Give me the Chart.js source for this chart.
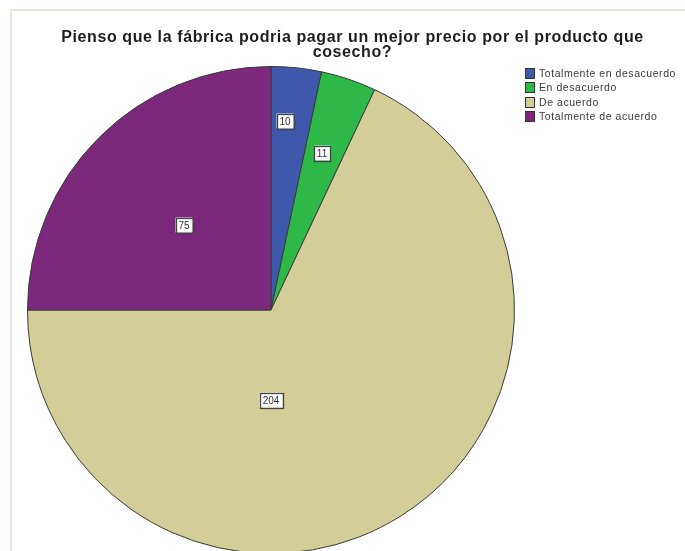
<!DOCTYPE html>
<html lang="es">
<head>
<meta charset="UTF-8">
<title>Precio por el producto</title>
<script src="https://cdn.jsdelivr.net/npm/chart.js"></script>
<style>
    html, body {
        margin: 0;
        padding: 0;
        width: 685px;
        height: 551px;
        overflow: hidden;
        background: #ffffff;
        font-family: "Liberation Sans", Arial, sans-serif;
    }
    .marco {
        position: absolute;
        left: 10px;
        top: 9px;
        width: 700px;
        height: 600px;
        border-left: 2px solid #ebe7de;
        border-top: 2px solid #ebe7de;
    }
    .titulo {
        position: absolute;
        left: 20px;
        width: 665px;
        top: 29px;
        text-align: center;
        font-weight: bold;
        font-size: 16px;
        letter-spacing: 0.6px;
        line-height: 15px;
        color: #1e1e1e;
    }
    .leyenda {
        position: absolute;
        left: 525px;
        top: 67px;
        font-size: 10.5px;
        letter-spacing: 0.55px;
        color: #3a3a3a;
    }
    .leyenda div {
        height: 14.3px;
        line-height: 12px;
        white-space: nowrap;
    }
    .leyenda span {
        display: inline-block;
        width: 8px;
        height: 9px;
        border: 1px solid #333;
        vertical-align: -2px;
        margin-right: 4px;
    }
    #grafico {
        position: absolute;
        left: 0;
        top: 0;
    }
</style>
</head>
<body>

<div class="marco"></div>
<canvas id="grafico" width="685" height="562"></canvas>
<div class="titulo">Pienso que la fábrica podria pagar un mejor precio por el producto que<br>cosecho?</div>
<div class="leyenda" id="leyenda"></div>

<script>
    // Respuestas y frecuencias
    var categorias = ['Totalmente en desacuerdo', 'En desacuerdo', 'De acuerdo', 'Totalmente de acuerdo'];
    var frecuencias = [10, 11, 204, 75];
    var colores = ['#3e58ac', '#2eb848', '#d3ce97', '#7c287d'];

    // donde va la etiqueta dentro de cada sector: fraccion del angulo y del radio
    var posEtiqueta = [
        { t: 0.35, r: 0.78 },
        { t: 0.46, r: 0.68 },
        { t: 0.632, r: 0.37 },
        { t: 0.49, r: 0.50 }
    ];

    // leyenda en html
    var leyenda = document.getElementById('leyenda');
    categorias.forEach(function(c, i) {
        var fila = document.createElement('div');
        var cuadro = document.createElement('span');
        cuadro.style.background = colores[i];
        fila.appendChild(cuadro);
        fila.appendChild(document.createTextNode(c));
        leyenda.appendChild(fila);
    });

    // etiquetas con recuadro blanco sobre cada sector
    var etiquetas = {
        id: 'etiquetas',
        afterDatasetsDraw: function(chart) {
            var ctx = chart.ctx;
            var arcos = chart.getDatasetMeta(0).data;
            ctx.save();
            ctx.font = '10px "Liberation Sans", Arial, sans-serif';
            ctx.textAlign = 'center';
            ctx.textBaseline = 'middle';
            arcos.forEach(function(arco, i) {
                var p = arco.getProps(['x', 'y', 'startAngle', 'endAngle', 'outerRadius'], true);
                var ang = p.startAngle + (p.endAngle - p.startAngle) * posEtiqueta[i].t;
                var rad = p.outerRadius * posEtiqueta[i].r;
                var x = Math.round(p.x + Math.cos(ang) * rad);
                var y = Math.round(p.y + Math.sin(ang) * rad);
                var texto = String(frecuencias[i]);
                var w = Math.round(ctx.measureText(texto).width + 6);
                var h = 15;
                ctx.fillStyle = '#ffffff';
                ctx.fillRect(x - w / 2, y - h / 2, w, h);
                ctx.strokeStyle = '#444444';
                ctx.lineWidth = 1.3;
                ctx.strokeRect(Math.round(x - w / 2) + 0.5, Math.round(y - h / 2) + 0.5, w, h);
                ctx.fillStyle = '#333333';
                ctx.fillText(texto, x, y + 1);
            });
            ctx.restore();
        }
    };

    new Chart(document.getElementById('grafico'), {
        type: 'pie',
        data: {
            labels: categorias,
            datasets: [{
                data: frecuencias,
                backgroundColor: colores,
                borderColor: '#3a3a3a',
                borderWidth: 1
            }]
        },
        options: {
            responsive: false,
            animation: false,
            events: [],
            layout: {
                padding: { left: 27, right: 170, top: 66, bottom: 8 }
            },
            plugins: {
                legend: { display: false },
                title: { display: false },
                tooltip: { enabled: false }
            }
        },
        plugins: [etiquetas]
    });
</script>

</body>
</html>
